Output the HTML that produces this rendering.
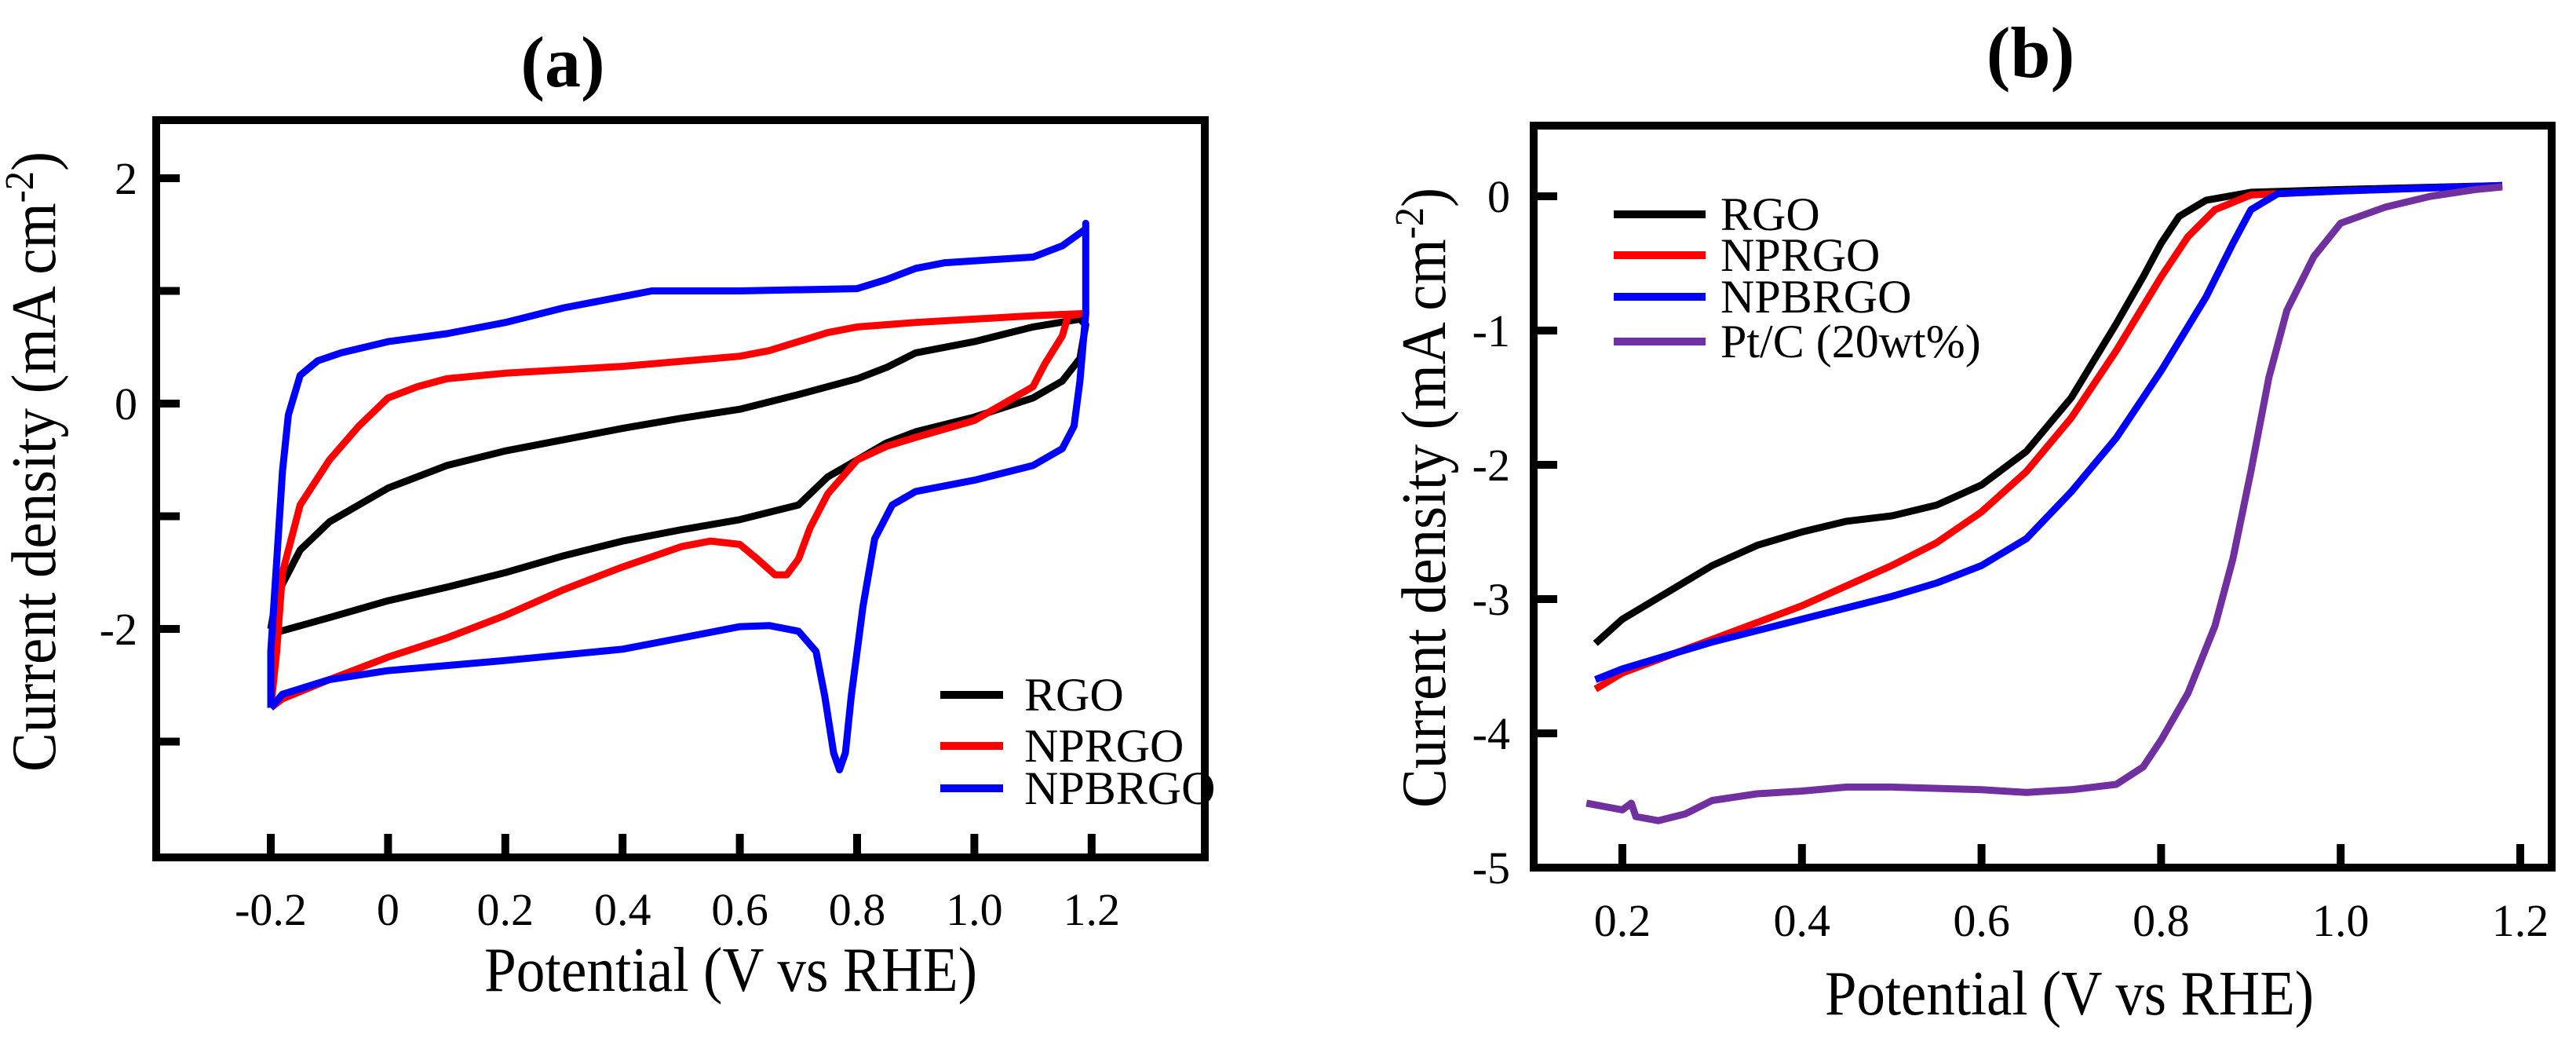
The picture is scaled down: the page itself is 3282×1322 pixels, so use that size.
<!DOCTYPE html>
<html><head><meta charset="utf-8"><style>
html,body{margin:0;padding:0;background:#fff;}
svg, svg text, svg tspan{font-family:"Liberation Serif","DejaVu Serif",serif;}
</style></head><body>
<svg id="fig" width="3282" height="1317" viewBox="0 0 3282 1317" xmlns="http://www.w3.org/2000/svg" font-family="Liberation Serif, DejaVu Serif, serif">
<text x="717" y="110" font-size="92" font-weight="bold" text-anchor="middle" font-family="Liberation Serif, serif">(a)</text>
<text x="2587" y="98" font-size="92" font-weight="bold" text-anchor="middle" font-family="Liberation Serif, serif">(b)</text>
<g id="pa"></g>
<g id="pb"></g>
</svg>
<script>
// ---- Panel (a) data ----
const aXTicks=[-0.2,0,0.2,0.4,0.6,0.8,1.0,1.2];
const aXTickLabels=["-0.2","0","0.2","0.4","0.6","0.8","1.0","1.2"];
const aYTicks=[2,1,0,-1,-2,-3];
const aYTickLabels=["2","","0","","-2",""];
const aNames=["RGO","NPRGO","NPBRGO"];
const aColors=["#000000","#ff0000","#0000ff"];
const aRgoX=[-0.2,-0.19,-0.15,-0.1,-0.05,0,0.1,0.2,0.3,0.4,0.5,0.6,0.7,0.8,0.85,0.9,1.0,1.1,1.18,1.19,1.18,1.15,1.1,1.0,0.9,0.85,0.8,0.75,0.7,0.6,0.5,0.4,0.3,0.2,0.1,0,-0.1,-0.19,-0.2];
const aRgoY=[-2.0,-1.7,-1.3,-1.05,-0.9,-0.75,-0.55,-0.42,-0.32,-0.22,-0.13,-0.05,0.08,0.22,0.32,0.45,0.55,0.68,0.75,0.7,0.4,0.2,0.05,-0.12,-0.25,-0.35,-0.5,-0.65,-0.9,-1.03,-1.12,-1.22,-1.35,-1.5,-1.63,-1.75,-1.9,-2.03,-2.0];
const aNpX=[-0.2,-0.19,-0.18,-0.15,-0.1,-0.05,0,0.05,0.1,0.2,0.4,0.6,0.65,0.7,0.75,0.8,0.9,1.0,1.1,1.19,1.16,1.15,1.12,1.1,1.05,1.0,0.9,0.85,0.8,0.75,0.72,0.7,0.68,0.66,0.63,0.6,0.55,0.5,0.4,0.3,0.2,0.1,0,-0.1,-0.18,-0.2];
const aNpY=[-2.7,-2.2,-1.5,-0.9,-0.5,-0.2,0.05,0.15,0.22,0.27,0.33,0.42,0.47,0.55,0.63,0.68,0.72,0.75,0.78,0.8,0.78,0.6,0.35,0.15,0,-0.15,-0.3,-0.38,-0.5,-0.8,-1.1,-1.38,-1.52,-1.52,-1.38,-1.25,-1.22,-1.27,-1.45,-1.65,-1.88,-2.08,-2.25,-2.45,-2.62,-2.7];
const aNpbX=[-0.2,-0.2,-0.19,-0.18,-0.17,-0.15,-0.12,-0.08,0,0.1,0.2,0.3,0.4,0.45,0.6,0.8,0.85,0.9,0.95,1.1,1.15,1.19,1.19,1.19,1.18,1.17,1.15,1.1,1.0,0.9,0.86,0.83,0.81,0.79,0.78,0.77,0.76,0.745,0.73,0.7,0.65,0.6,0.5,0.4,0.2,0,-0.1,-0.18,-0.2];
const aNpbY=[-2.7,-2.2,-1.4,-0.6,-0.1,0.25,0.38,0.45,0.55,0.62,0.72,0.85,0.95,1.0,1.0,1.02,1.1,1.2,1.25,1.3,1.4,1.55,1.6,0.8,0.2,-0.2,-0.4,-0.55,-0.68,-0.78,-0.9,-1.2,-1.8,-2.6,-3.1,-3.25,-3.1,-2.6,-2.2,-2.02,-1.97,-1.98,-2.08,-2.18,-2.28,-2.37,-2.45,-2.58,-2.7];
// ---- Panel (b) data ----
const bXTicks=[0.2,0.4,0.6,0.8,1.0,1.2];
const bXTickLabels=["0.2","0.4","0.6","0.8","1.0","1.2"];
const bYTicks=[0,-1,-2,-3,-4,-5];
const bYTickLabels=["0","-1","-2","-3","-4","-5"];
const bNames=["RGO","NPRGO","NPBRGO","Pt/C (20wt%)"];
const bColors=["#000000","#ff0000","#0000ff","#7030a0"];
const bRgoX=[0.17,0.2,0.25,0.3,0.35,0.4,0.45,0.5,0.55,0.6,0.65,0.7,0.75,0.78,0.8,0.82,0.85,0.9,1.0,1.18];
const bRgoY=[-3.33,-3.15,-2.95,-2.75,-2.6,-2.5,-2.42,-2.38,-2.3,-2.15,-1.9,-1.5,-0.95,-0.6,-0.35,-0.15,-0.03,0.03,0.05,0.08];
const bNpX=[0.17,0.2,0.3,0.4,0.5,0.55,0.6,0.65,0.7,0.75,0.8,0.83,0.86,0.9,1.0,1.18];
const bNpY=[-3.67,-3.55,-3.3,-3.05,-2.75,-2.58,-2.35,-2.05,-1.65,-1.15,-0.6,-0.3,-0.1,0.01,0.04,0.08];
const bNpbX=[0.17,0.2,0.3,0.4,0.5,0.55,0.6,0.65,0.7,0.75,0.8,0.85,0.88,0.9,0.93,1.0,1.18];
const bNpbY=[-3.6,-3.52,-3.32,-3.15,-2.98,-2.88,-2.75,-2.55,-2.2,-1.8,-1.3,-0.75,-0.35,-0.1,0.02,0.04,0.08];
const bPtX=[0.16,0.2,0.21,0.215,0.24,0.27,0.3,0.35,0.4,0.45,0.5,0.6,0.65,0.7,0.75,0.78,0.8,0.83,0.86,0.88,0.9,0.92,0.94,0.97,1.0,1.05,1.1,1.15,1.18];
const bPtY=[-4.52,-4.57,-4.52,-4.62,-4.65,-4.6,-4.5,-4.45,-4.43,-4.4,-4.4,-4.42,-4.44,-4.42,-4.38,-4.25,-4.05,-3.7,-3.2,-2.7,-2.05,-1.35,-0.85,-0.45,-0.2,-0.08,0,0.05,0.07];

const NS="http://www.w3.org/2000/svg";
const FF="Liberation Serif, DejaVu Serif, serif";
function mk(parent,tag,attrs){const e=document.createElementNS(NS,tag);for(const k in attrs)e.setAttribute(k,attrs[k]);if(tag==="text")e.setAttribute("font-family",FF);parent.appendChild(e);return e;}

function drawPanel(g,cfg){
  const X=v=>cfg.x0px+(v-cfg.x0v)*cfg.xs;
  const Y=v=>cfg.y0px-(v-cfg.y0v)*cfg.ys;
  const F=cfg.frame;
  cfg.series.forEach((s,i)=>{
    let d="";
    for(let k=0;k<s.x.length;k++)d+=(k?"L":"M")+X(s.x[k]).toFixed(1)+","+Y(s.y[k]).toFixed(1);
    const p=mk(g,"path",{d:d,fill:"none",stroke:s.color,"stroke-width":9,"stroke-linejoin":"round"});
    
    
  });
  const fr=mk(g,"rect",{x:F[0],y:F[1],width:F[2]-F[0],height:F[3]-F[1],fill:"none",stroke:"#000","stroke-width":10});
  
  
  cfg.xt.forEach((v,i)=>{
    const t=mk(g,"line",{x1:X(v),x2:X(v),y1:F[3],y2:F[3]-30,stroke:"#000","stroke-width":10});
    
    
    const l=mk(g,"text",{x:X(v),y:cfg.xLabelY,"font-size":58,"text-anchor":"middle"});
    l.textContent=cfg.xtl[i];
    
    
  });
  cfg.yt.forEach((v,i)=>{
    const t=mk(g,"line",{x1:F[0],x2:F[0]+30,y1:Y(v),y2:Y(v),stroke:"#000","stroke-width":10});
    
    
    if(cfg.ytl[i]!==""){
      const l=mk(g,"text",{x:cfg.yLabelX,y:Y(v)+20,"font-size":58,"text-anchor":"end"});
      l.textContent=cfg.ytl[i];
      
      
    }
  });
  const xt=mk(g,"text",{x:cfg.xTitle[0],y:cfg.xTitle[1],"font-size":80,textLength:cfg.xTitle[2],lengthAdjust:"spacingAndGlyphs"});
  xt.textContent="Potential  (V vs RHE)";
  
  
  const yt=mk(g,"text",{x:0,y:0,"font-size":80,"text-anchor":"middle",textLength:cfg.yTitle[2],lengthAdjust:"spacingAndGlyphs",transform:"translate("+cfg.yTitle[0]+","+cfg.yTitle[1]+") rotate(-90)"});
  yt.innerHTML='Current  density  (mA  cm<tspan font-size="52" dy="-28">-2</tspan><tspan dy="28">)</tspan>';
  
  
  cfg.series.forEach((s,i)=>{
    const ly=cfg.legend.y[i];
    const ln=mk(g,"line",{x1:cfg.legend.x1,x2:cfg.legend.x2,y1:ly,y2:ly,stroke:s.color,"stroke-width":10});
    
    
    const tx=mk(g,"text",{x:cfg.legend.tx,y:ly+20,"font-size":60});
    tx.textContent=s.name;
    
    
  });
}

drawPanel(document.getElementById("pa"),{
  x0px:345,x0v:-0.2,xs:747,y0px:514,y0v:0,ys:143.5,
  frame:[199,153,1535,1092],
  xt:aXTicks,xtl:aXTickLabels,yt:aYTicks,ytl:aYTickLabels,
  xLabelY:1178,yLabelX:175,
  xTitle:[617,1262,628],yTitle:[70,588,790],
  legend:{x1:1198,x2:1278,tx:1305,y:[885,950,1004]},
  series:[{name:aNames[0],color:aColors[0],x:aRgoX,y:aRgoY},{name:aNames[1],color:aColors[1],x:aNpX,y:aNpY},{name:aNames[2],color:aColors[2],x:aNpbX,y:aNpbY}]
});
drawPanel(document.getElementById("pb"),{
  x0px:2067,x0v:0.2,xs:1144,y0px:250,y0v:0,ys:171,
  frame:[1954,160,3251,1105],
  xt:bXTicks,xtl:bXTickLabels,yt:bYTicks,ytl:bYTickLabels,
  xLabelY:1192,yLabelX:1924,
  xTitle:[2325,1292,623],yTitle:[1841,634,790],
  legend:{x1:2056,x2:2173,tx:2192,y:[273,325,378,435]},
  series:[{name:bNames[0],color:bColors[0],x:bRgoX,y:bRgoY},{name:bNames[1],color:bColors[1],x:bNpX,y:bNpY},{name:bNames[2],color:bColors[2],x:bNpbX,y:bNpbY},{name:bNames[3],color:bColors[3],x:bPtX,y:bPtY}]
});
</script>
</body></html>
